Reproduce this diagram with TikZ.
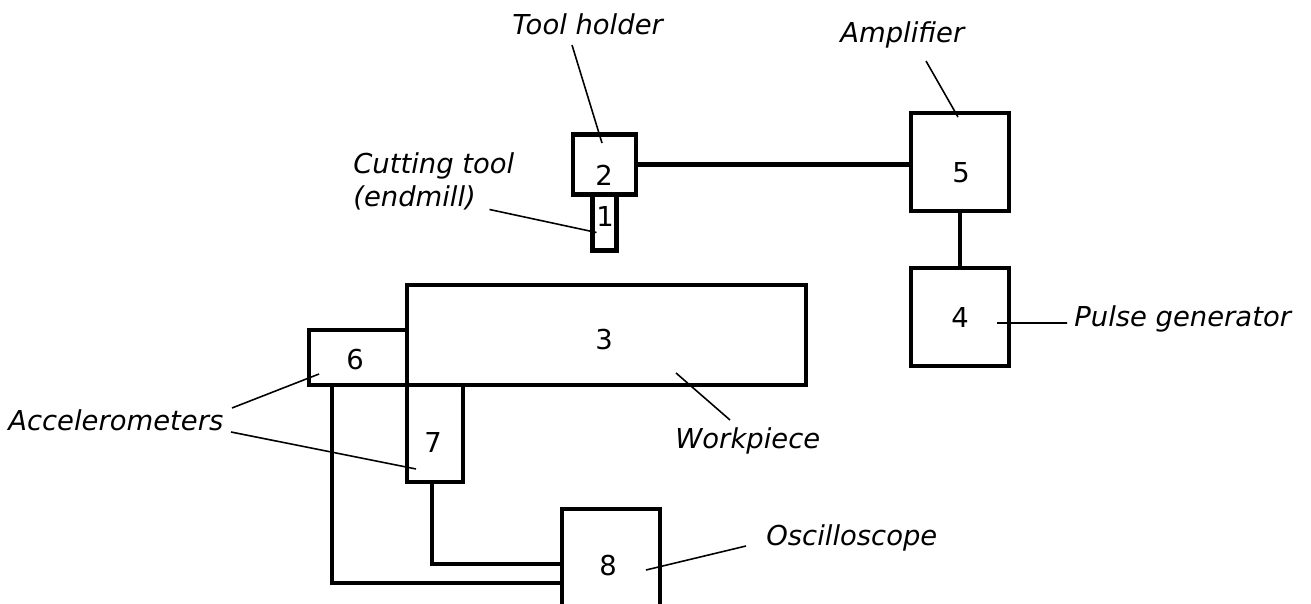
\documentclass[tikz,border=0pt]{standalone}
\usepackage{fontspec}
\setmainfont{DejaVu Sans}
\usepackage{xcolor}
\definecolor{lineDark}{HTML}{000000}
\usepackage{tikz}
\usetikzlibrary{positioning,calc}
\tikzset{%
  unitBox/.style={%
    rectangle,
    draw=lineDark,
    line width=2.3pt,
    fill=white,
    inner sep=0pt,
    outer sep=0pt
  },
  wireLine/.style={%
    draw=lineDark,
    line width=2.3pt
  },
  leaderLine/.style={%
    draw=lineDark,
    line width=0.9pt
  },
  calloutText/.style={%
    anchor=base west,
    inner sep=0pt,
    font=\fontsize{15.6}{19.3}\selectfont\itshape,
    align=left
  },
  digitText/.style={%
    inner sep=0pt,
    font=\fontsize{15.6}{19.3}\selectfont
  }
}

\begin{document}
\begin{tikzpicture}[x=0.02cm,y=-0.02cm]
            \fill[white] (0,0) rectangle (1311,604);
            \useasboundingbox (0,0) rectangle (1311,604);

            % boxes
            \node[unitBox, minimum width=1.26cm, minimum height=1.2cm] (holder) at (604.5,164.5) {};
            \node[unitBox, minimum width=0.48cm, minimum height=1.12cm, below=0pt of holder] (cutter) {};
            \node[unitBox, minimum width=1.96cm, minimum height=1.96cm] (amp) at (960,162) {};
            \node[unitBox, minimum width=1.96cm, minimum height=1.96cm, below=1.14cm of amp] (pulse) {};
            \node[unitBox, minimum width=7.98cm, minimum height=2.0cm] (work) at (606.5,335) {};
            \node[unitBox, minimum width=1.96cm, minimum height=1.1cm, anchor=south east] (accA) at (work.south west) {};
            \node[unitBox, minimum width=1.12cm, minimum height=1.94cm, anchor=north west] (accB) at (work.south west) {};
            \node[unitBox, minimum width=1.96cm, minimum height=2.28cm] (scope) at (611,566) {};

            % numbers
            \foreach \n/\x/\y in {2/604/175, 1/605/217, 5/961/173, 4/960/318, 3/604/340, 6/355/360, 7/433/443, 8/608/566}
                \node[digitText] (num\n) at (\x,\y) {\n};

            % wiring
            \draw[wireLine] (holder.east) -- (holder.east -| amp.west);
            \draw[wireLine] (amp) -- (pulse);
            \draw[wireLine] ($(accA.south west)+(23,0)$) |- ($(scope.west)+(0,17)$);
            \draw[wireLine] ($(accB.south west)+(25,0)$) |- ($(scope.west)+(0,-2)$);

            % labels
            \node[calloutText] (lblHolder) at (512,35) {Tool holder};
            \node[calloutText] (lblAmp) at (840,43) {Amplifier};
            \node[calloutText] (lblCutter) at (353,207) {Cutting tool\\(endmill)};
            \node[calloutText] (lblPulse) at (1074,327) {Pulse generator};
            \node[calloutText] (lblWork) at (675,448) {Workpiece};
            \node[calloutText] (lblScope) at (766,545) {Oscilloscope};
            \node[calloutText] (lblAcc) at (8,430) {Accelerometers};

            \draw[leaderLine] ($(lblHolder.base west)+(60,10)$) -- ($(holder.north)+(-2.5,8.5)$);
            \draw[leaderLine] ($(lblAmp.base west)+(86,18)$) -- ($(amp.north)+(-2,4)$);
            \draw[leaderLine] ($(cutter.west)+(-103,-13)$) -- ($(cutter.west)+(4,10)$);
            \draw[leaderLine] ($(pulse.center)+(37,6)$) -- ($(lblPulse.base west)+(-7,-4)$);
            \draw[leaderLine] ($(work.south)+(69.5,-12)$) -- ($(lblWork.base west)+(55,-28)$);
            \draw[leaderLine] ($(scope.center)+(35,4)$) -- ($(lblScope.base west)+(-20,1)$);
            \draw[leaderLine] ($(lblAcc.base west)+(224,-22)$) -- ($(accA.south west)+(10,-11)$);
            \draw[leaderLine] ($(lblAcc.base west)+(223,2)$) -- ($(accB.west)+(9,35.5)$);
        \end{tikzpicture}
\end{document}
